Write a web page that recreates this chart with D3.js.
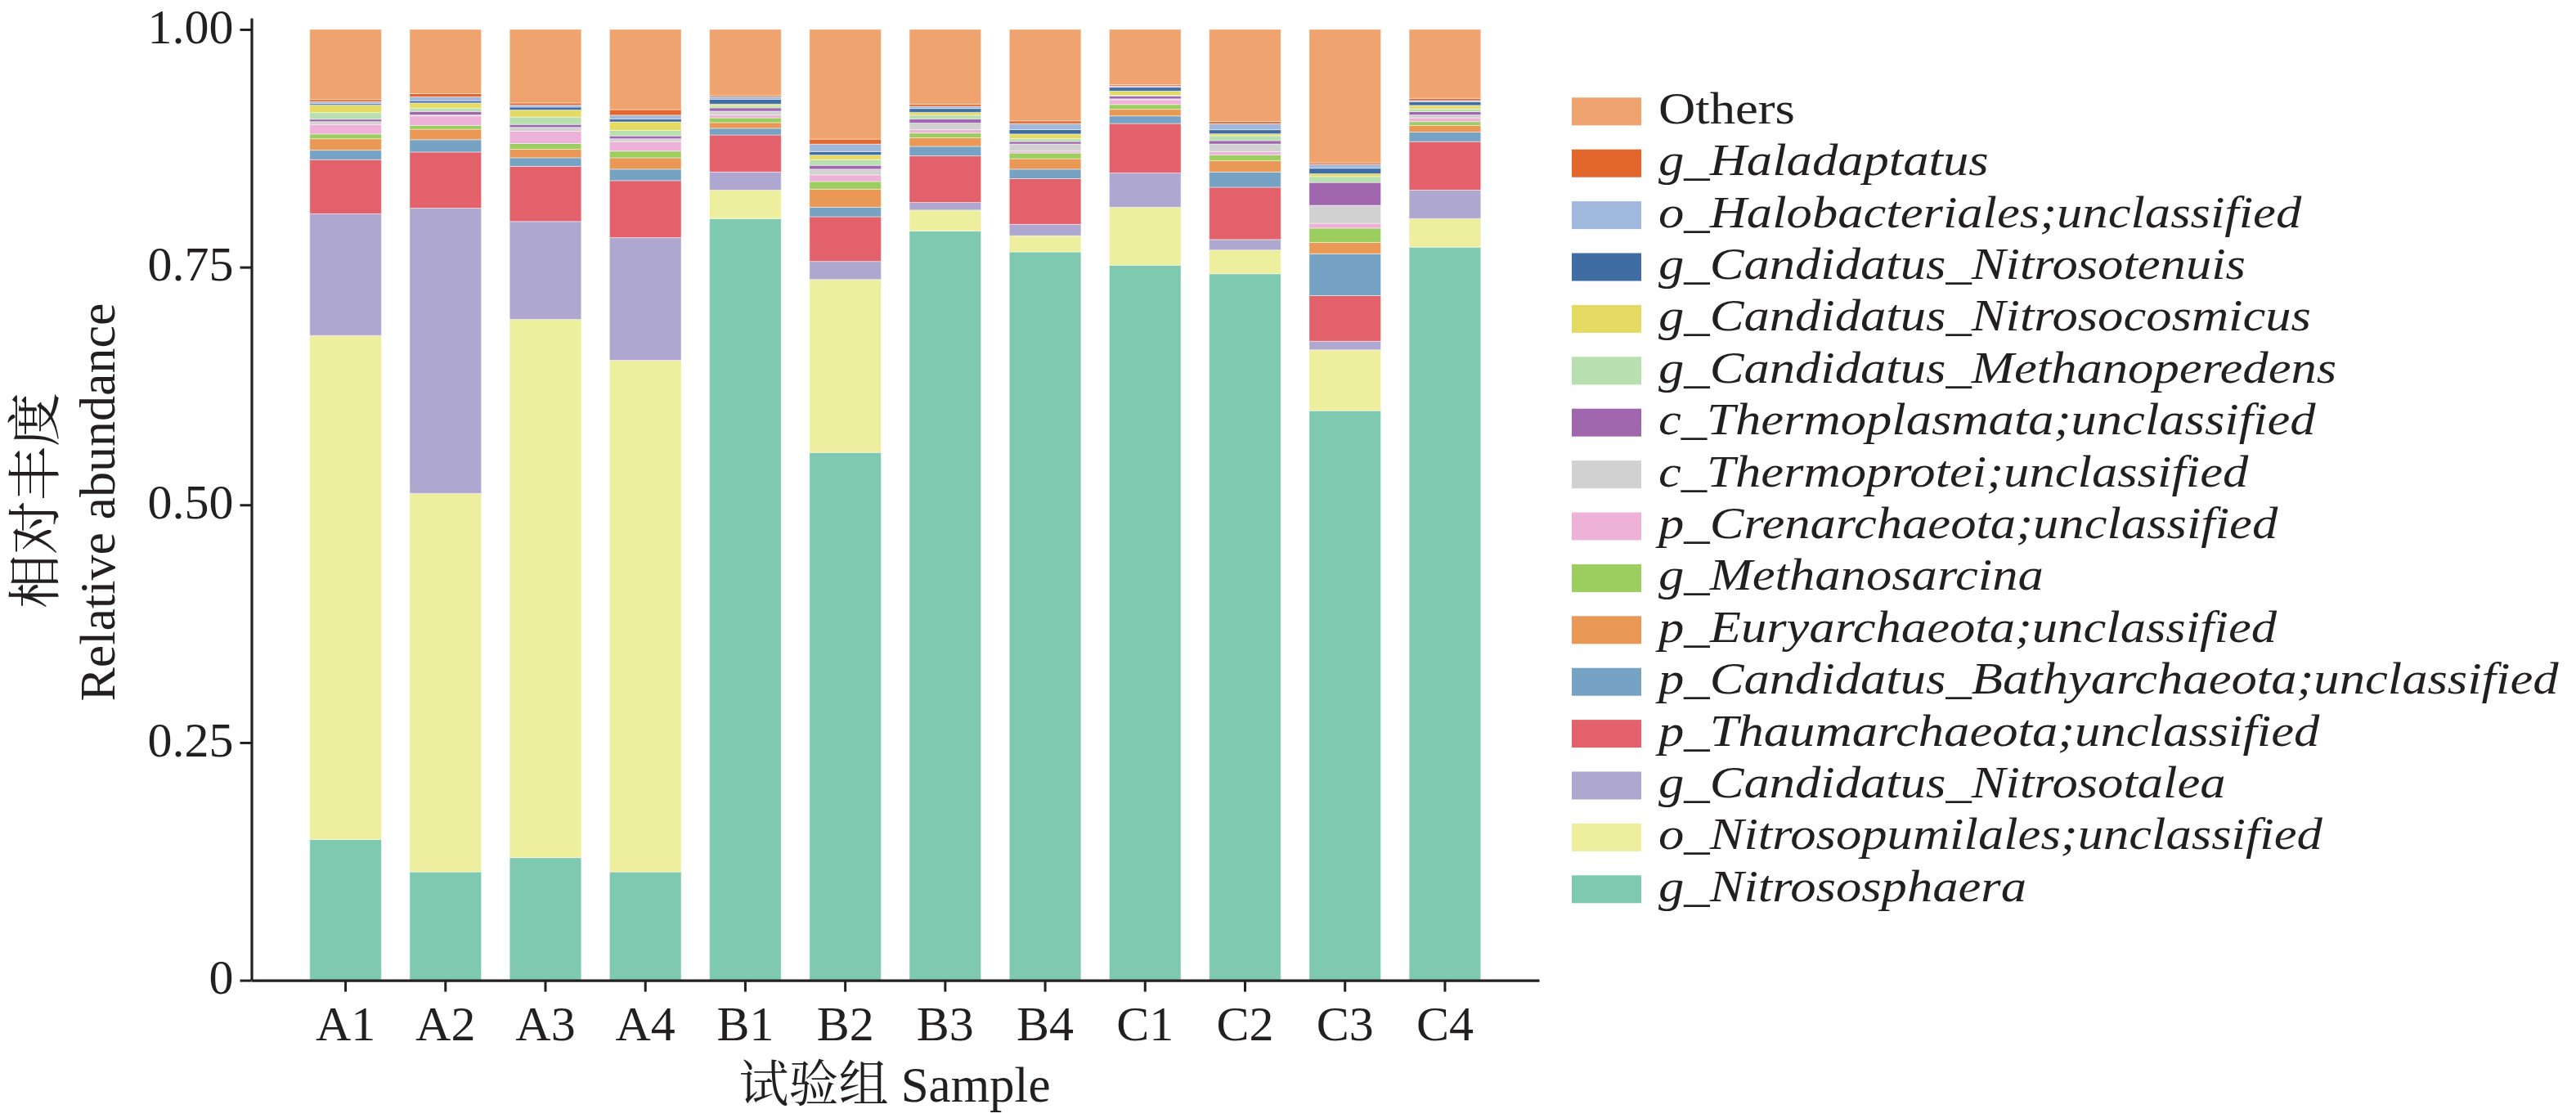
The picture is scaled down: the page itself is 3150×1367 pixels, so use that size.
<!DOCTYPE html>
<html>
<head>
<meta charset="utf-8">
<script src="https://cdn.jsdelivr.net/npm/d3@7"></script>
<style>
  html, body { margin: 0; padding: 0; background: #fff; }
  svg { display: block; }
  text { font-family: "Liberation Serif", "Times New Roman", "Noto Serif CJK SC", "Noto Sans CJK SC", serif; fill: #231f20; }
</style>
</head>
<body>
<svg id="chart" width="3150" height="1367"></svg>
<script>
// ---------------- DATA ----------------
const samples = ["A1","A2","A3","A4","B1","B2","B3","B4","C1","C2","C3","C4"];

// series listed bottom -> top of the stack
const g_Nitrososphaera      = [0.148, 0.114, 0.129, 0.114, 0.801, 0.555, 0.788, 0.766, 0.752, 0.743, 0.599, 0.771];
const o_Nitrosopumilales    = [0.530, 0.398, 0.566, 0.538, 0.030, 0.182, 0.022, 0.017, 0.061, 0.025, 0.064, 0.030];
const g_Nitrosotalea        = [0.128, 0.300, 0.103, 0.129, 0.019, 0.019, 0.008, 0.012, 0.036, 0.011, 0.009, 0.030];
const p_Thaumarchaeota      = [0.057, 0.059, 0.058, 0.060, 0.039, 0.047, 0.049, 0.048, 0.052, 0.055, 0.048, 0.051];
const p_Bathyarchaeota      = [0.010, 0.013, 0.009, 0.012, 0.007, 0.010, 0.010, 0.010, 0.008, 0.016, 0.044, 0.010];
const p_Euryarchaeota       = [0.012, 0.011, 0.009, 0.012, 0.006, 0.019, 0.009, 0.011, 0.007, 0.012, 0.012, 0.007];
const g_Methanosarcina      = [0.005, 0.004, 0.006, 0.007, 0.005, 0.008, 0.005, 0.006, 0.005, 0.006, 0.015, 0.004];
const p_Crenarchaeota       = [0.010, 0.010, 0.013, 0.010, 0.003, 0.007, 0.0035, 0.002, 0.005, 0.0035, 0.005, 0.004];
const c_Thermoprotei        = [0.003, 0.001, 0.004, 0.003, 0.004, 0.006, 0.007, 0.0075, 0.001, 0.008, 0.019, 0.003];
const c_Thermoplasmata      = [0.0026, 0.0037, 0.003, 0.003, 0.0035, 0.004, 0.0043, 0.0026, 0.003, 0.0035, 0.024, 0.0035];
const g_Methanoperedens     = [0.007, 0.0035, 0.0078, 0.0058, 0.0023, 0.006, 0.004, 0.003, 0.0006, 0.0052, 0.0063, 0.0029];
const g_Nitrosocosmicus     = [0.0078, 0.0055, 0.0075, 0.009, 0.0017, 0.0049, 0.003, 0.0049, 0.0046, 0.002, 0.0029, 0.0037];
const g_Nitrosotenuis       = [0.0015, 0.0023, 0.003, 0.003, 0.005, 0.0035, 0.004, 0.0046, 0.004, 0.0043, 0.0058, 0.0037];
const o_Halobacteriales     = [0.002, 0.004, 0.002, 0.004, 0.0026, 0.008, 0.0023, 0.0063, 0.0012, 0.0063, 0.004, 0.0014];
const g_Haladaptatus        = [0.0023, 0.0035, 0.0023, 0.0058, 0.0015, 0.0052, 0.0023, 0.0029, 0.0014, 0.0023, 0.0017, 0.0023];
const others                = [0.0738, 0.0675, 0.0774, 0.0844, 0.0694, 0.1154, 0.0786, 0.0962, 0.0582, 0.0969, 0.1403, 0.0725];

const seriesNames = [
  "g_Nitrososphaera",
  "o_Nitrosopumilales;unclassified",
  "g_Candidatus_Nitrosotalea",
  "p_Thaumarchaeota;unclassified",
  "p_Candidatus_Bathyarchaeota;unclassified",
  "p_Euryarchaeota;unclassified",
  "g_Methanosarcina",
  "p_Crenarchaeota;unclassified",
  "c_Thermoprotei;unclassified",
  "c_Thermoplasmata;unclassified",
  "g_Candidatus_Methanoperedens",
  "g_Candidatus_Nitrosocosmicus",
  "g_Candidatus_Nitrosotenuis",
  "o_Halobacteriales;unclassified",
  "g_Haladaptatus",
  "Others"
];
const seriesValues = [
  g_Nitrososphaera, o_Nitrosopumilales, g_Nitrosotalea, p_Thaumarchaeota,
  p_Bathyarchaeota, p_Euryarchaeota, g_Methanosarcina, p_Crenarchaeota,
  c_Thermoprotei, c_Thermoplasmata, g_Methanoperedens, g_Nitrosocosmicus,
  g_Nitrosotenuis, o_Halobacteriales, g_Haladaptatus, others
];
const seriesColors = [
  "#80c9b1", "#edee9e", "#aea8d0", "#e3616b",
  "#76a3c4", "#ea9856", "#9bce5e", "#eeb1d7",
  "#d1d1d1", "#a066ae", "#b8dfb0", "#e5da62",
  "#3e6ca3", "#a0b8dc", "#e3672d", "#efa36e"
];
const yTicks = [0, 0.25, 0.5, 0.75, 1.0];
const yTickLabels = ["0", "0.25", "0.50", "0.75", "1.00"];

// ---------------- BUILD TABLE ----------------
const table = samples.map((s, i) => {
  const row = { sample: s };
  seriesNames.forEach((n, k) => { row[n] = seriesValues[k][i]; });
  return row;
});

const svg = d3.select("#chart");

const x = d3.scaleBand()
  .domain(samples)
  .range([307.5, 1882])
  .paddingInner(0.283)
  .paddingOuter(0.583);

const y = d3.scaleLinear()
  .domain([0, 1.012])
  .range([1198.6, 22]);

const color = d3.scaleOrdinal().domain(seriesNames).range(seriesColors);

const stacked = d3.stack().keys(seriesNames)(table);

// bars
svg.append("g")
  .selectAll("g")
  .data(stacked)
  .join("g")
    .attr("fill", d => color(d.key))
  .selectAll("rect")
  .data(d => d)
  .join("rect")
    .attr("x", d => x(d.data.sample))
    .attr("width", x.bandwidth())
    .attr("y", d => y(d[1]))
    .attr("height", d => y(d[0]) - y(d[1]))
    .attr("stroke", "#ffffff")
    .attr("stroke-opacity", 0.45)
    .attr("stroke-width", 1);

// axes
const yAxis = svg.append("g")
  .attr("transform", "translate(307.5,0)")
  .call(d3.axisLeft(y)
    .tickValues(yTicks)
    .tickFormat((d, i) => yTickLabels[i])
    .tickSize(14)
    .tickSizeOuter(0)
    .tickPadding(8));
yAxis.select(".domain").attr("stroke", "#231f20").attr("stroke-width", 3.2);
yAxis.selectAll(".tick line").attr("stroke", "#231f20").attr("stroke-width", 3);
yAxis.selectAll(".tick text")
  .attr("font-size", 60)
  .attr("dy", "0.27em")
  .style("font-family", "'Liberation Serif', serif")
  .attr("fill", "#231f20");

const xAxis = svg.append("g")
  .attr("transform", "translate(0,1198.6)")
  .call(d3.axisBottom(x)
    .tickSize(14)
    .tickSizeOuter(0)
    .tickPadding(17));
xAxis.select(".domain").attr("stroke", "#231f20").attr("stroke-width", 3.2);
xAxis.selectAll(".tick line").attr("stroke", "#231f20").attr("stroke-width", 3);
xAxis.selectAll(".tick text")
  .attr("font-size", 60)
  .style("font-family", "'Liberation Serif', serif")
  .attr("fill", "#231f20");

// axis titles
svg.append("text")
  .attr("transform", "translate(66,612) rotate(-90)")
  .attr("text-anchor", "middle")
  .attr("font-size", 66)
  .text("相对丰度");
svg.append("text")
  .attr("transform", "translate(139.5,614) rotate(-90)")
  .attr("text-anchor", "middle")
  .attr("font-size", 62)
  .text("Relative abundance");
svg.append("text")
  .attr("x", 1094)
  .attr("y", 1347)
  .attr("text-anchor", "middle")
  .attr("font-size", 61)
  .text("试验组 Sample");

// legend (top -> bottom: Others first)
const legendOrder = seriesNames.slice().reverse();
const legend = svg.append("g")
  .selectAll("g")
  .data(legendOrder)
  .join("g")
    .attr("transform", (d, i) => `translate(0,${i * 63.4})`);
legend.append("rect")
  .attr("x", 1922)
  .attr("y", 119.3)
  .attr("width", 85)
  .attr("height", 34)
  .attr("fill", d => color(d));
legend.append("text")
  .attr("transform", "translate(2028,150.7) scale(1.16,1)")
  .attr("font-size", 54)
  .attr("font-style", d => d === "Others" ? "normal" : "italic")
  .text(d => d);
</script>
</body>
</html>
